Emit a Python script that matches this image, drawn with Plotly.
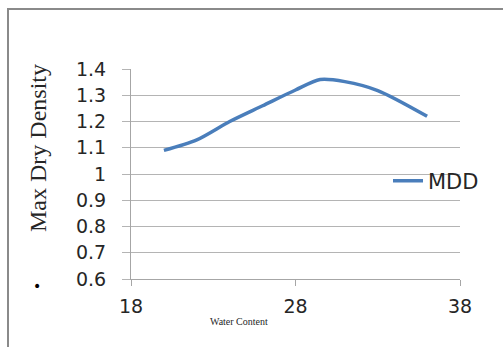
import plotly.graph_objects as go

# Compaction curve: water content (%) vs maximum dry density
water_content = [20, 22, 24, 26, 28, 29.5, 31, 33, 36]
mdd = [1.09, 1.13, 1.20, 1.26, 1.32, 1.36, 1.352, 1.318, 1.22]

y_tickvals = [0.6, 0.7, 0.8, 0.9, 1.0, 1.1, 1.2, 1.3, 1.4]
y_ticktext = ["0.6", "0.7", "0.8", "0.9", "1", "1.1", "1.2", "1.3", "1.4"]
x_tickvals = [18, 28, 38]
x_ticktext = ["18", "28", "38"]

W, H = 503, 347
L, R, T, B = 131, 43, 69, 68
pw, ph = W - L - R, H - T - B


def px_x(px):
    return (px - L) / pw


def px_y(py):
    return (H - B - py) / ph


grid = "#b4b4b4"
axis = "#a6a6a6"
text = "#262626"

fig = go.Figure()
fig.add_trace(go.Scatter(
    x=water_content, y=mdd, mode="lines", name="MDD",
    line=dict(color="#4a7ebb", width=3.5, shape="spline", smoothing=0.8),
))

fig.update_layout(
    width=W, height=H,
    margin=dict(l=L, r=R, t=T, b=B),
    paper_bgcolor="white", plot_bgcolor="white",
    font=dict(family="DejaVu Sans", size=19, color=text),
    showlegend=True,
    legend=dict(x=px_x(388), y=px_y(181), xanchor="left", yanchor="middle",
                bgcolor="rgba(0,0,0,0)", font=dict(size=21, color=text),
                itemwidth=30),
    xaxis=dict(range=[18, 38], tickvals=x_tickvals, ticktext=x_ticktext,
               showgrid=False, zeroline=False, showline=True, linecolor=axis,
               linewidth=1, ticks="outside", ticklen=6, tickcolor=axis,
               ticklabelstandoff=4),
    yaxis=dict(range=[0.6, 1.4], tickvals=y_tickvals, ticktext=y_ticktext,
               showgrid=True, gridcolor=grid, gridwidth=1, zeroline=False,
               showline=True, linecolor=axis, linewidth=1, ticks="outside",
               ticklen=8, tickcolor=grid, ticklabelstandoff=12),
)

# outer frame (left and top edges)
fig.add_shape(type="line", xref="paper", yref="paper",
              x0=px_x(8), y0=px_y(H + 2), x1=px_x(8), y1=px_y(9),
              line=dict(color="#8a8a8a", width=2))
fig.add_shape(type="line", xref="paper", yref="paper",
              x0=px_x(7), y0=px_y(9), x1=px_x(W + 2), y1=px_y(9),
              line=dict(color="#8a8a8a", width=2))

fig.add_annotation(text="Max Dry Density", xref="paper", yref="paper",
                   x=px_x(38), y=px_y(148), showarrow=False, textangle=-90,
                   xanchor="center", yanchor="middle",
                   font=dict(family="Liberation Serif", size=24, color=text))
fig.add_annotation(text="Water Content", xref="paper", yref="paper",
                   x=px_x(239), y=px_y(321), showarrow=False,
                   xanchor="center", yanchor="middle",
                   font=dict(family="Liberation Serif", size=10, color=text))
fig.add_annotation(text="•", xref="paper", yref="paper",
                   x=px_x(37), y=px_y(286), showarrow=False,
                   xanchor="center", yanchor="middle",
                   font=dict(family="DejaVu Sans", size=14, color="black"))

fig.write_html("out.html")
